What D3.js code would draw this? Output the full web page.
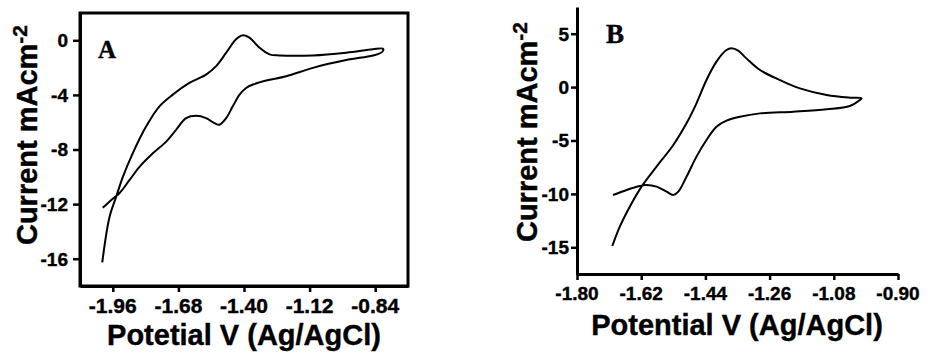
<!DOCTYPE html>
<meta charset="utf-8">
<script src="https://d3js.org/d3.v7.min.js"></script>
<style>
body { margin: 0; background: #fff; }
text { font-family: "Liberation Sans", Arial, sans-serif; font-weight: bold; fill: #000; stroke: #000; stroke-width: 0.4px; }
.axis path, .axis line { stroke: #000; }
.axis path { stroke-width: 3px; }
.axis line { stroke-width: 2.5px; }
.cv { fill: none; stroke: #000; stroke-width: 2px; }
.letter { font-family: "Liberation Serif", "Times New Roman", serif; font-weight: bold; }
</style>
<body>
<svg id="chart" width="928" height="352"></svg>
</body>
<script>
// panel A: potential (V) and current (mA cm-2), scan goes right then back
var aPotential = [-2.005, -1.974, -1.946, -1.917, -1.875, -1.818, -1.761, -1.704, -1.633, -1.562,
  -1.519, -1.476, -1.434, -1.405, -1.377, -1.334, -1.291, -1.249, -1.106, -0.964, -0.850, -0.808,
  -0.805, -0.815, -0.850, -0.964, -1.106, -1.220, -1.305, -1.362, -1.391, -1.419, -1.448, -1.476,
  -1.505, -1.526, -1.562, -1.604, -1.647, -1.690, -1.732, -1.789, -1.846, -1.889, -1.931, -1.960, -2.003];
var aCurrent = [-16.27, -12.95, -11.48, -10.0, -8.28, -6.32, -4.84, -3.98, -3.12, -2.51,
  -1.89, -0.91, 0.07, 0.37, 0.20, -0.54, -1.03, -1.11, -1.11, -0.91, -0.66, -0.61,
  -0.71, -0.91, -1.11, -1.45, -2.02, -2.63, -2.95, -3.24, -3.49, -3.98, -4.84, -5.70,
  -6.19, -6.07, -5.70, -5.53, -5.70, -6.56, -7.42, -8.28, -9.27, -10.25, -11.19, -11.60, -12.27];

// panel B
var bPotential = [-1.701, -1.680, -1.652, -1.619, -1.577, -1.530, -1.493, -1.465, -1.437, -1.409,
  -1.381, -1.367, -1.348, -1.325, -1.287, -1.231, -1.175, -1.100, -1.035, -1.002,
  -1.007, -1.035, -1.100, -1.194, -1.287, -1.343, -1.381, -1.409, -1.437, -1.465, -1.493,
  -1.516, -1.530, -1.549, -1.577, -1.605, -1.624, -1.661, -1.699];
var bCurrent = [-14.88, -13.07, -11.2, -9.32, -7.45, -5.42, -3.39, -1.52, 0.66, 2.38,
  3.47, 3.63, 3.41, 2.69, 1.60, 0.66, -0.12, -0.74, -0.99, -1.05,
  -1.21, -1.77, -2.08, -2.30, -2.46, -2.77, -3.14, -3.71, -4.95, -6.51, -8.39,
  -9.79, -10.1, -9.79, -9.32, -9.17, -9.26, -9.63, -10.1];

var aXTicks = [-1.96, -1.68, -1.40, -1.12, -0.84];
var aYTicks = [0, -4, -8, -12, -16];
var bXTicks = [-1.80, -1.62, -1.44, -1.26, -1.08, -0.90];
var bYTicks = [5, 0, -5, -10, -15];

var svg = d3.select("#chart");

function pairs(xs, ys) {
  return xs.map(function(x, i) { return [x, ys[i]]; });
}

// axis ticks from d3, labels written by hand (plain hyphen, bold, larger)
function xLabels(scale, ticks, baseline, size) {
  svg.append("g").selectAll("text")
    .data(ticks).enter().append("text")
    .attr("x", function(d) { return scale(d); })
    .attr("y", baseline)
    .attr("text-anchor", "middle")
    .style("font-size", size + "px")
    .text(function(d) { return d.toFixed(2); });
}
function yLabels(scale, ticks, right, size) {
  svg.append("g").selectAll("text")
    .data(ticks).enter().append("text")
    .attr("x", right)
    .attr("y", function(d) { return scale(d); })
    .attr("dy", "0.36em")
    .attr("text-anchor", "end")
    .style("font-size", size + "px")
    .text(function(d) { return String(d); });
}

// ---- panel A (full box) ----
var xA = d3.scaleLinear().domain([-2.1, -0.7]).range([80, 408]);
var yA = d3.scaleLinear().domain([-18, 2]).range([286, 13]);

svg.append("g").attr("class", "axis")
  .attr("transform", "translate(0,286)")
  .call(d3.axisBottom(xA).tickValues(aXTicks).tickFormat("").tickSize(6).tickSizeOuter(0));

svg.append("g").attr("class", "axis")
  .attr("transform", "translate(80,0)")
  .call(d3.axisLeft(yA).tickValues(aYTicks).tickFormat("").tickSize(7).tickSizeOuter(0));

xLabels(xA, aXTicks, 313, 21);
yLabels(yA, aYTicks, 68, 19);

svg.append("rect")
  .attr("x", xA.range()[0]).attr("y", yA.range()[1])
  .attr("width", xA.range()[1] - xA.range()[0])
  .attr("height", yA.range()[0] - yA.range()[1])
  .attr("fill", "none").attr("stroke", "#000").attr("stroke-width", 3);

var line = d3.line().curve(d3.curveCatmullRom.alpha(0.5));

svg.append("path").attr("class", "cv")
  .attr("d", line.x(function(d) { return xA(d[0]); }).y(function(d) { return yA(d[1]); })(pairs(aPotential, aCurrent)));

svg.append("text").attr("class", "letter")
  .attr("x", 98).attr("y", 58).style("font-size", "25px").text("A");

svg.append("text")
  .attr("x", 244).attr("y", 345).attr("text-anchor", "middle")
  .style("font-size", "29px").text("Potetial V (Ag/AgCl)");

var tA = svg.append("text")
  .attr("transform", "translate(37,135) rotate(-90)")
  .attr("text-anchor", "middle").style("font-size", "29px");
tA.append("tspan").text("Current mAcm");
tA.append("tspan").attr("dy", -10).style("font-size", "21px").text("-2");

// ---- panel B (left + bottom axes only) ----
var xB = d3.scaleLinear().domain([-1.8, -0.9]).range([577, 898]);
var yB = d3.scaleLinear().domain([-17.5, 7.5]).range([274, 7]);

svg.append("g").attr("class", "axis")
  .attr("transform", "translate(0,274)")
  .call(d3.axisBottom(xB).tickValues(bXTicks).tickFormat("").tickSize(6).tickSizeOuter(0));

svg.append("g").attr("class", "axis")
  .attr("transform", "translate(577,0)")
  .call(d3.axisLeft(yB).tickValues(bYTicks).tickFormat("").tickSize(6).tickSizeOuter(0));

xLabels(xB, bXTicks, 300, 19);
yLabels(yB, bYTicks, 569, 19);

svg.append("path").attr("class", "cv")
  .attr("d", line.x(function(d) { return xB(d[0]); }).y(function(d) { return yB(d[1]); })(pairs(bPotential, bCurrent)));

svg.append("text").attr("class", "letter")
  .attr("x", 606).attr("y", 43).style("font-size", "27px").text("B");

svg.append("text")
  .attr("x", 737).attr("y", 335).attr("text-anchor", "middle")
  .style("font-size", "29px").text("Potential V (Ag/AgCl)");

var tB = svg.append("text")
  .attr("transform", "translate(537,132) rotate(-90)")
  .attr("text-anchor", "middle").style("font-size", "29px");
tB.append("tspan").text("Current mAcm");
tB.append("tspan").attr("dy", -10).style("font-size", "21px").text("-2");
</script>
